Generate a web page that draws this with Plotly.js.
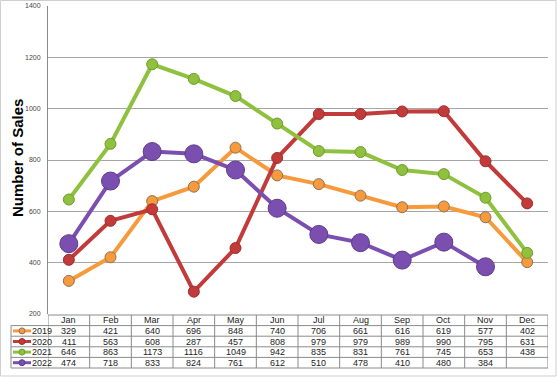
<!DOCTYPE html>
<html>
<head>
<meta charset="utf-8">
<script src="https://cdn.plot.ly/plotly-3.0.1.min.js"></script>
<style>html,body{margin:0;padding:0;background:#fff;}#chart{width:557px;height:377px;}</style>
</head>
<body>
<div id="chart"></div>
<script>
const months = ["Jan","Feb","Mar","Apr","May","Jun","Jul","Aug","Sep","Oct","Nov","Dec"];
const seriesNames = ["2019","2020","2021","2022"];
const sales2019 = [329,421,640,696,848,740,706,661,616,619,577,402];
const sales2020 = [411,563,608,287,457,808,979,979,989,990,795,631];
const sales2021 = [646,863,1173,1116,1049,942,835,831,761,745,653,438];
const sales2022 = [474,718,833,824,761,612,510,478,410,480,384,null];
const yTicks = [200,400,600,800,1000,1200,1400];
const yTitle = "Number of Sales";

const allSeries = [sales2019, sales2020, sales2021, sales2022];
const colors = ["#f79a3c","#c23a3a","#8fc13f","#7b4fb0"];
const edge = ["#8c7458","#9c2e2e","#6f9a30","#5e3a8c"];
const msize = [11,11,11,18];

const W = 557, H = 377;
const px = v => v / W;
const py = v => 1 - v / H;

const traces = allSeries.map((s, i) => ({
  type: "scatter", mode: "lines+markers", name: seriesNames[i],
  x: months, y: s,
  line: {color: colors[i], width: 4},
  marker: {color: colors[i], size: msize[i], line: {color: edge[i], width: 1}},
  connectgaps: false, hoverinfo: "skip"
}));

const tTop = 315, rowH = 10.6;
const rowsY = [0,1,2,3,4,5].map(k => tTop + k * rowH);
const legLeft = 11, axisX = 48, rightX = 548;
const cellFont = {family:"Liberation Sans, Arial", size:9, color:"#222"};

const shapes = [];
const annotations = [];
rowsY.forEach((y, k) => {
  shapes.push({type:"line", xref:"paper", yref:"paper", x0: px(k === 0 ? axisX : legLeft), x1: px(rightX), y0: py(y), y1: py(y), line:{color:"#8a8a8a", width:1}});
});
for (let i = 0; i <= months.length; i++) {
  shapes.push({type:"line", xref:"x", yref:"paper", x0: i - 0.5, x1: i - 0.5, y0: py(tTop), y1: py(rowsY[5]), line:{color:"#8a8a8a", width:1}});
}
shapes.push({type:"line", xref:"paper", yref:"paper", x0: px(legLeft), x1: px(legLeft), y0: py(rowsY[1]), y1: py(rowsY[5]), line:{color:"#8a8a8a", width:1}});
shapes.push({type:"rect", xref:"paper", yref:"paper", x0: px(0.5), x1: px(556), y0: py(376), y1: py(0.5), line:{color:"#cfcfcf", width:1}});

months.forEach((m) => {
  annotations.push({xref:"x", yref:"paper", x: m, y: py(tTop + rowH/2), text: m, showarrow:false, font: cellFont, xanchor:"center", yanchor:"middle"});
});
allSeries.forEach((s, i) => {
  const yc = tTop + rowH * (i + 1.5);
  s.forEach((v, j) => {
    if (v === null) return;
    annotations.push({xref:"x", yref:"paper", x: months[j], y: py(yc), text: String(v), showarrow:false, font: cellFont, xanchor:"center", yanchor:"middle"});
  });
  annotations.push({xref:"paper", yref:"paper", x: px(30), y: py(yc), text: seriesNames[i], showarrow:false, font: cellFont, xanchor:"left", yanchor:"middle"});
  shapes.push({type:"line", xref:"paper", yref:"paper", x0: px(13), x1: px(31), y0: py(yc), y1: py(yc), line:{color: colors[i], width:3}});
  shapes.push({type:"circle", xref:"paper", yref:"paper", x0: px(19), x1: px(25), y0: py(yc + 3), y1: py(yc - 3), fillcolor: colors[i], line:{color: edge[i], width:1}});
});
annotations.push({xref:"paper", yref:"paper", x: px(17), y: py(158), text: yTitle, textangle:-90, showarrow:false,
  font:{family:"Liberation Sans, Arial", size:15, color:"#000", weight:"bold"}, xanchor:"center", yanchor:"middle"});

const layout = {
  width: W, height: H,
  margin: {l:0, r:0, t:0, b:0},
  paper_bgcolor: "#fff", plot_bgcolor: "#fff",
  showlegend: false,
  xaxis: {type:"category", domain:[px(axisX), px(rightX)], range:[-0.5, 11.5], showticklabels:false, showgrid:false, zeroline:false, showline:false, ticks:""},
  yaxis: {domain:[py(314), py(6)], range:[200, 1400], tickvals: yTicks, ticktext: yTicks.map(String),
    showgrid:true, gridcolor:"#a6a6a6", gridwidth:1, zeroline:false,
    showline:true, linecolor:"#8a8a8a", linewidth:1,
    ticks:"outside", ticklen:5, tickcolor:"rgba(0,0,0,0)",
    tickfont:{family:"Liberation Sans, Arial", size:7, color:"#444"}},
  shapes: shapes, annotations: annotations
};

Plotly.newPlot("chart", traces, layout, {staticPlot:true, displayModeBar:false});
</script>
</body>
</html>
